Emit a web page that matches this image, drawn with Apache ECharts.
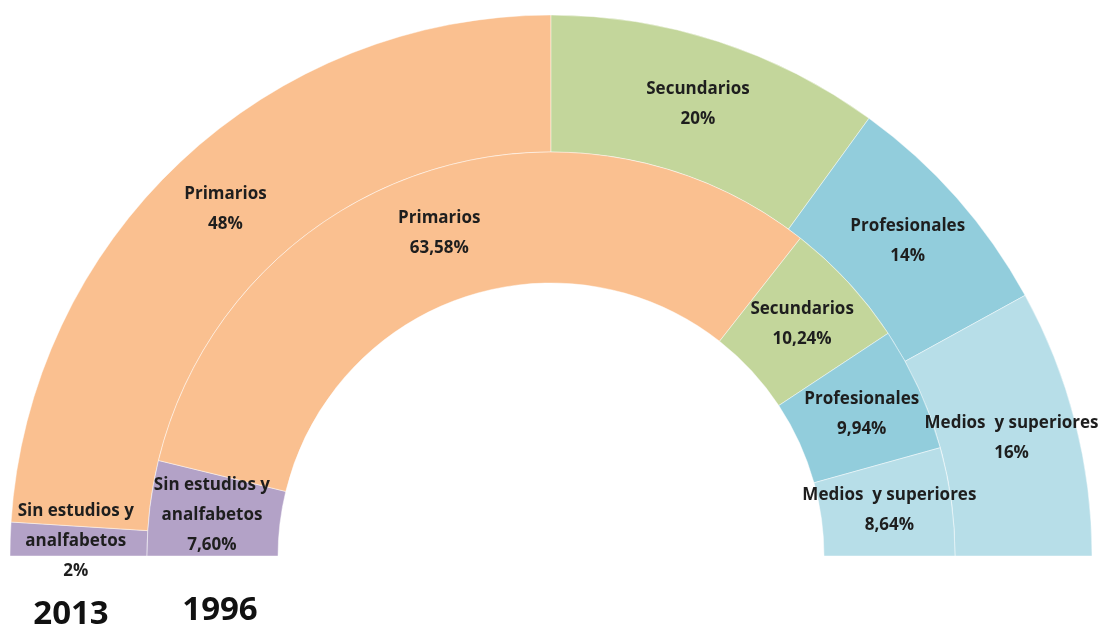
<!DOCTYPE html>
<html>
<head>
<meta charset="utf-8">
<script src="https://cdn.jsdelivr.net/npm/echarts@6/dist/echarts.min.js"></script>
<style>
html,body{margin:0;padding:0;background:#fff;}
#chart{width:1111px;height:628px;}
</style>
</head>
<body>
<div id="chart"></div>
<script>
const categories = ['Sin estudios y\nanalfabetos', 'Primarios', 'Secundarios', 'Profesionales', 'Medios  y superiores'];
const values2013 = [2, 48, 20, 14, 16];
const values1996 = [7.60, 63.58, 10.24, 9.94, 8.64];
const yearLabels = ['2013', '1996'];
const colors = ['#B3A2C7', '#FAC090', '#C3D69B', '#92CDDC', '#B7DEE8'];

const FONT = '"Open Sans", "Liberation Sans", sans-serif';

function makeData(vals, decimals) {
  return vals.map((v, i) => ({
    name: categories[i],
    value: v,
    itemStyle: { color: colors[i] },
    label: { formatter: categories[i] + '\n' + v.toFixed(decimals).replace('.', ',') + '%' }
  }));
}

const labelStyle = {
  show: true,
  position: 'inside',
  color: '#1e1e1e',
  fontFamily: FONT,
  fontWeight: 'bold',
  fontSize: 17,
  lineHeight: 30
};

const chart = echarts.init(document.getElementById('chart'), null, { renderer: 'canvas' });
chart.setOption({
  animation: false,
  backgroundColor: '#ffffff',
  series: [
    {
      type: 'pie',
      center: [551, 556],
      radius: [404, 541],
      startAngle: 180,
      endAngle: 360,
      clockwise: true,
      silent: true,
      itemStyle: { borderColor: 'rgba(255,255,255,0.45)', borderWidth: 1 },
      label: labelStyle,
      labelLine: { show: false },
      emphasis: { disabled: true },
      data: makeData(values2013, 0)
    },
    {
      type: 'pie',
      center: [551, 556],
      radius: [273, 404],
      startAngle: 180,
      endAngle: 360,
      clockwise: true,
      silent: true,
      itemStyle: { borderColor: 'rgba(255,255,255,0.45)', borderWidth: 1 },
      label: labelStyle,
      labelLine: { show: false },
      emphasis: { disabled: true },
      data: makeData(values1996, 2)
    }
  ],
  graphic: [
    { type: 'text', x: 71, y: 615, style: { text: yearLabels[0], font: 'bold 33px ' + FONT, fill: '#111', textAlign: 'center', textVerticalAlign: 'middle' } },
    { type: 'text', x: 220, y: 611, style: { text: yearLabels[1], font: 'bold 33px ' + FONT, fill: '#111', textAlign: 'center', textVerticalAlign: 'middle' } }
  ]
});
</script>
</body>
</html>
